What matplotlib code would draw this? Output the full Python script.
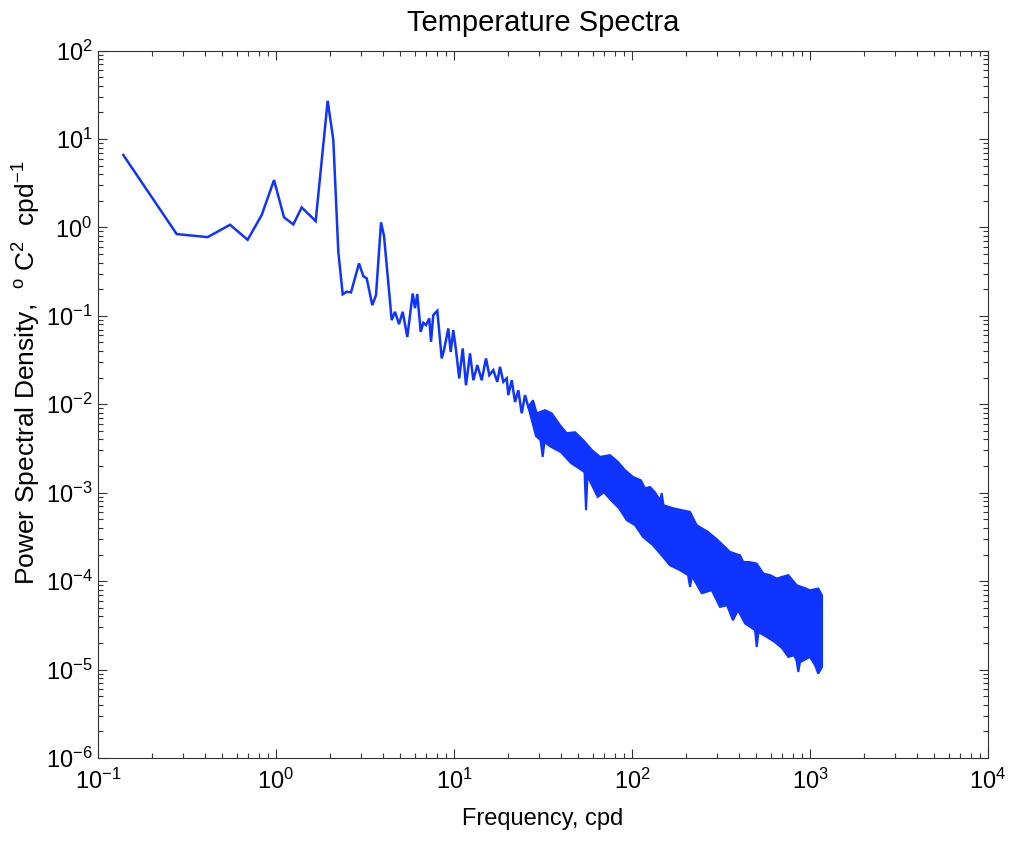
import numpy as np
import matplotlib
matplotlib.use("Agg")
import matplotlib.pyplot as plt
from matplotlib.ticker import LogLocator, LogFormatterSciNotation, NullFormatter

plt.rcParams['font.family'] = ['Liberation Sans', 'DejaVu Sans']
plt.rcParams['mathtext.fontset'] = 'custom'
plt.rcParams['mathtext.rm'] = 'Liberation Sans'
plt.rcParams['mathtext.it'] = 'Liberation Sans'
plt.rcParams['mathtext.bf'] = 'Liberation Sans'

# ---- data ----
# low-frequency part of the spectrum (a single line)
freq_line = [0.1387, 0.2768, 0.413, 0.552, 0.693, 0.831, 0.975, 1.109, 1.251, 1.394,
             1.671, 1.951, 2.099, 2.239, 2.370, 2.496, 2.638, 2.927, 3.094, 3.233,
             3.475, 3.646, 3.890, 4.044, 4.467, 4.661, 4.909, 5.149, 5.465, 5.861,
             6.038, 6.220, 6.500, 6.723, 6.962, 7.265, 7.427, 7.651, 8.058, 8.530,
             8.787, 9.290, 9.583, 9.910, 10.26, 10.7, 11.19, 11.68, 12.30, 12.84,
             13.52, 14.31, 15.13, 15.79, 16.63, 17.51, 18.13, 18.92, 19.78, 20.19,
             21.10, 22.02, 22.98, 24.01, 25.06, 26.15]
psd_line = [6.58, 0.84, 0.776, 1.07, 0.724, 1.38, 3.43, 1.30, 1.08, 1.68,
            1.18, 27.0, 9.7, 0.53, 0.175, 0.187, 0.184, 0.392, 0.281, 0.265,
            0.132, 0.171, 1.14, 0.80, 0.0894, 0.111, 0.0805, 0.111, 0.0578, 0.179,
            0.122, 0.176, 0.0659, 0.0834, 0.0785, 0.0935, 0.0508, 0.102, 0.114, 0.033,
            0.041, 0.072, 0.039, 0.069, 0.041, 0.0196, 0.0428, 0.0164, 0.0376, 0.0187,
            0.0277, 0.0187, 0.033, 0.0213, 0.0243, 0.0179, 0.0265, 0.0179, 0.0196, 0.0127,
            0.0187, 0.0106, 0.0144, 0.0079, 0.0127, 0.0093]

# high-frequency part: dense noisy band, upper and lower envelopes
freq_upper = [27.79, 29.15, 32.45, 35.39, 39.40, 42.97, 47.84, 53.27, 59.62, 66.11,
              75.21, 83.43, 91.33, 101.3, 112.3, 118.3, 126.2, 134.7, 143.7, 146.9,
              150.3, 169.9, 190.9, 211.8, 231.0, 267.3, 299.1, 324.5, 355.3, 404.4,
              421.9, 460.1, 501.9, 546.7, 596.2, 650.0, 755.0, 842.0, 937.6, 1000,
              1113, 1168]
psd_upper = [0.0111, 0.0079, 0.00857, 0.0079, 0.0058, 0.00471, 0.00483, 0.00392, 0.00303, 0.00254,
             0.00266, 0.00223, 0.0018, 0.00151, 0.00138, 0.00112, 0.00116, 0.00101, 0.000822, 0.000987,
             0.000722, 0.000668, 0.000634, 0.000607, 0.000429, 0.00036, 0.000298, 0.000255, 0.000214, 0.000196,
             0.000165, 0.000164, 0.000158, 0.000122, 0.000117, 0.000107, 0.000117, 8.99e-5, 8.32e-5, 7.89e-5,
             8.24e-5, 6.92e-5]
freq_lower = [28.89, 30.62, 31.50, 32.24, 35.07, 39.91, 45.43, 50.38, 54.09, 55.16,
              56.24, 64.18, 69.60, 76.21, 84.53, 93.38, 104.0, 115.3, 131.2, 149.3,
              163.5, 186.1, 206.4, 211.8, 217.4, 246.4, 280.4, 312.2, 341.7, 369.3,
              393.9, 431.4, 472.3, 490.9, 501.9, 513.7, 571.0, 636.0, 696.3, 755.0,
              813.0, 839.8, 859.6, 878.6, 1000, 1067, 1113, 1168]
psd_lower = [0.00436, 0.00393, 0.00254, 0.00373, 0.0033, 0.00287, 0.00216, 0.00189, 0.00171, 0.000634,
             0.00154, 0.000896, 0.00101, 0.000822, 0.000668, 0.000489, 0.000429, 0.000316, 0.000255, 0.000188,
             0.000151, 0.000133, 0.000117, 8.61e-5, 0.000114, 7.3e-5, 7.89e-5, 5.11e-5, 5.34e-5, 3.61e-5,
             4.69e-5, 3.32e-5, 2.94e-5, 2.79e-5, 1.8e-5, 2.65e-5, 2.34e-5, 2.04e-5, 1.75e-5, 1.39e-5,
             1.45e-5, 1.27e-5, 9.4e-6, 1.21e-5, 1.39e-5, 1.12e-5, 9.0e-6, 1.07e-5]

color = '#1034ff'

fig = plt.figure(figsize=(10.13, 8.42), dpi=100)
ax = fig.add_axes([98/1013, 1 - 758/842, (988-98)/1013, (758-50.5)/842])

ax.plot(freq_line, psd_line, color=color, lw=1.8, solid_joinstyle='miter')

# band polygon: joins the line end, follows upper envelope, returns along lower envelope
band_f = [freq_line[-1]] + freq_upper + freq_lower[::-1] + [freq_line[-1]]
band_p = [psd_line[-1]] + psd_upper + psd_lower[::-1] + [psd_line[-1]]
ax.fill(band_f, band_p, facecolor=color, edgecolor=color, lw=1.5)

ax.set_xscale('log')
ax.set_yscale('log')
ax.set_xlim(1e-1, 1e4)
ax.set_ylim(1e-6, 1e2)

for axis in (ax.xaxis, ax.yaxis):
    axis.set_major_locator(LogLocator(base=10, numticks=20))
    axis.set_minor_locator(LogLocator(base=10, subs=np.arange(2, 10), numticks=20))
    axis.set_minor_formatter(NullFormatter())
    axis.set_major_formatter(LogFormatterSciNotation())

ax.tick_params(which='both', direction='in', top=True, right=True, labelsize=17, width=0.8, color='#333333')
ax.tick_params(which='major', length=6.5)
ax.tick_params(which='minor', length=3.6)
ax.tick_params(axis='x', pad=8)
ax.tick_params(axis='y', pad=4)
for s in ax.spines.values():
    s.set_linewidth(0.8)
    s.set_color('#333333')

ax.set_title('Temperature Spectra', fontsize=21, pad=14)
ax.set_xlabel('Frequency, cpd', fontsize=17, labelpad=10)
ax.set_ylabel('Power Spectral Density,  $^{\\mathrm{o}}$ C$^{2}$  cpd$^{-1}$', fontsize=19)
ax.yaxis.set_label_coords(-0.062, 0.545)

fig.savefig('out.png', dpi=100)
